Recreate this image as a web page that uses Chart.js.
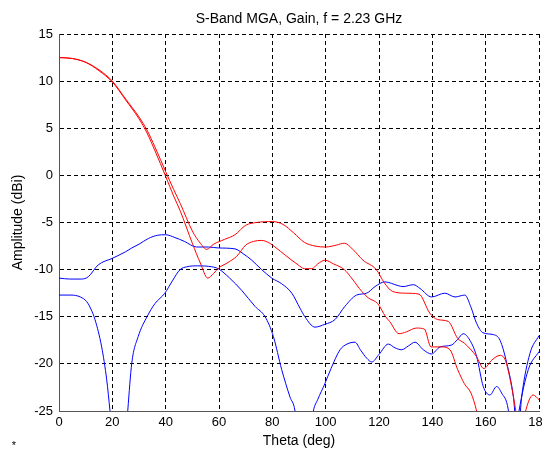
<!DOCTYPE html>
<html><head><meta charset="utf-8">
<script src="https://cdn.jsdelivr.net/npm/chart.js@4.4.1/dist/chart.umd.min.js"></script>
<style>
html,body{margin:0;padding:0;background:#fff;overflow:hidden;width:542px;height:450px}
#wrap{position:relative;width:580px;height:450px}
</style>
</head><body><div id="wrap"><canvas id="c" width="580" height="450"></canvas></div>
<script>
const chartTitle = 'S-Band MGA, Gain, f = 2.23 GHz';
const xTitle = 'Theta (deg)';
const yTitle = 'Amplitude (dBi)';
const xTicks = [0,20,40,60,80,100,120,140,160,180];
const yTicks = [-25,-20,-15,-10,-5,0,5,10,15];

const redAX = [0,5,10,15,20,25,30,33,36,40,43,45.5,50,53,55.4,58,62,66,70,74,80,84,88,92,96,100,104,107,110,114,119,122,125,130,135,139,142,146,149.5,152,156.5,159.3,162.3,165.4,167.5,169.7,171.5,173,174.8,177.8,180];
const redAY = [12.5,12.4,12.0,11.2,10.0,8.1,6.2,4.8,3.0,0.4,-1.5,-3.0,-5.9,-7.2,-7.85,-7.3,-6.8,-6.3,-5.3,-5.0,-4.9,-5.2,-6.1,-7.1,-7.5,-7.6,-7.4,-7.2,-7.8,-9.0,-10.0,-11.4,-12.3,-12.5,-12.6,-14.6,-15.3,-15.5,-17.3,-17.8,-19.2,-20.5,-19.6,-19.1,-19.7,-22.4,-25.3,-28,-25.2,-23.3,-23.8];

const redBX = [0,5,10,15,20,25,30,33,36,40,43,45.5,50,53,55.8,58,60,63,66.6,70,73,76,79,81,85,89.7,92,94.8,97,99.7,103,107,110,113.5,116,119.5,122.5,124,127.5,130.3,134,137,139.5,143.5,146.6,149.5,152,154.5,156.6,158,160,170,180];
const redBY = [12.5,12.4,12.0,11.1,9.9,8.0,6.0,4.5,2.6,-0.1,-2.2,-3.8,-7.2,-9.3,-10.9,-10.4,-9.8,-9.3,-8.6,-7.4,-7.0,-6.9,-7.2,-7.6,-8.5,-9.5,-9.9,-9.9,-9.4,-9.0,-9.4,-10.0,-11.0,-12.3,-13.0,-13.6,-15.0,-15.5,-16.8,-16.6,-16.2,-16.3,-18.2,-18.2,-18.5,-20.6,-22.1,-23.1,-25,-27,-30,-35,-35];

const blueAX = [0,4,8.5,11,14.7,20,25,27.3,30,33.5,37,40,43.5,47,51.6,56,59.7,66,69,72.3,76,79.8,83.5,87.3,90.4,92.2,96,99.7,103.5,107.2,111.6,115.4,118.5,122.2,127.2,129,132.9,135.4,139.7,144.7,148.5,152.2,154.5,156.6,159,163,165.4,167.9,170.4,172,173.5,176.6,180];
const blueAY = [-10.9,-11.0,-11.0,-10.75,-9.5,-8.8,-8.1,-7.7,-7.3,-6.7,-6.35,-6.3,-6.6,-7.0,-7.6,-7.6,-7.7,-7.8,-8.3,-9.0,-10.0,-10.9,-11.5,-12.5,-14.1,-15.0,-16.1,-15.8,-15.3,-13.9,-12.7,-12.5,-11.8,-11.3,-11.7,-11.8,-11.6,-12.0,-12.9,-12.5,-12.9,-12.7,-14.0,-15.7,-16.7,-16.9,-17.5,-19.9,-23.5,-28,-23.5,-18.9,-17.0];

const blueBX = [0,4.5,8,10.4,12,13.5,16,17.9,19.1,21,23,25,25.8,27.3,29.7,33,36,39.7,42.5,45.4,47.9,52,57.3,59.7,64,68.5,73.5,77.3,80.4,83.5,86.6,88.5,90,92,94,95.4,97,99.7,102,105.4,108,111,113,115.4,117.3,120,123.5,126,128.5,131,133.5,136.6,139.7,142.9,147.2,149.5,151.6,154.1,156.6,159.1,161.6,164.1,166,168.5,170,171.5,172.5,176,180];
const blueBY = [-12.7,-12.7,-12.9,-13.4,-14.2,-15.3,-18.2,-21.7,-24.9,-30,-35,-28,-24.9,-19.9,-17.1,-15.0,-13.6,-12.5,-11.2,-10.0,-9.7,-9.6,-9.7,-9.9,-10.9,-12.2,-13.9,-15.0,-17.1,-20.6,-23.5,-25,-29,-33,-28,-25,-23.8,-22.1,-20.5,-18.5,-17.9,-17.7,-18.5,-19.4,-19.8,-19.0,-17.9,-18.3,-18.5,-18.1,-17.7,-18.5,-18.95,-18.2,-18.0,-17.4,-16.8,-17.5,-19.2,-22.4,-23.3,-22.4,-23.1,-24.9,-29,-27,-25,-20.6,-18.7];

function pts(xs, ys){ return xs.map((x,i)=>({x:x, y:ys[i]})); }
function ds(xs, ys, color){
  return {data: pts(xs, ys), borderColor: color, borderWidth: 1, pointRadius: 0,
          fill: false, cubicInterpolationMode: 'monotone'};
}

Chart.defaults.font.family = 'Arial, "Liberation Sans", sans-serif';
Chart.defaults.color = '#000';

const starPlugin = {
  id: 'star',
  afterDraw(chart){
    const c = chart.ctx;
    c.save();
    c.fillStyle = '#000';
    c.font = '11px Arial, "Liberation Sans", sans-serif';
    c.textAlign = 'center';
    c.textBaseline = 'middle';
    c.fillText('*', 14, 446);
    c.restore();
  }
};

new Chart(document.getElementById('c'), {
  type: 'line',
  data: { datasets: [
    ds(redAX, redAY, '#ff0000'),
    ds(redBX, redBY, '#ff0000'),
    ds(blueAX, blueAY, '#0000ff'),
    ds(blueBX, blueBY, '#0000ff')
  ]},
  options: {
    responsive: false, animation: false, devicePixelRatio: 1,
    layout: { padding: { left: 0, right: 41, top: 0, bottom: 0 } },
    plugins: {
      legend: { display: false }, tooltip: { enabled: false },
      title: { display: true, text: chartTitle, fullSize: false, color: '#000',
               font: { size: 14, weight: 'normal' }, padding: { top: 10.6, bottom: 6.6 } }
    },
    scales: {
      x: {
        type: 'linear', min: xTicks[0], max: xTicks[xTicks.length-1],
        afterBuildTicks: (s) => { s.ticks = xTicks.map(v => ({value: v})); },
        ticks: { padding: 4, font: { size: 13 }, color: '#000', maxRotation: 0, autoSkip: false },
        grid: { color: '#000', drawTicks: false, lineWidth: 1 },
        border: { display: true, color: '#555', dash: [4, 3] },
        title: { display: true, text: xTitle, color: '#000', font: { size: 14 }, padding: { top: 0, bottom: 0 } },
        afterFit: (s) => { s.height = 39; }
      },
      y: {
        type: 'linear', min: yTicks[0], max: yTicks[yTicks.length-1],
        afterBuildTicks: (s) => { s.ticks = yTicks.map(v => ({value: v})); },
        ticks: { padding: 6, font: { size: 13 }, color: '#000' },
        grid: { color: '#000', drawTicks: false, lineWidth: 1 },
        border: { display: true, color: '#555', dash: [4, 3] },
        title: { display: true, text: yTitle, color: '#000', font: { size: 14 }, padding: { top: 10, bottom: 0 } },
        afterFit: (s) => { s.width = 59; }
      }
    }
  },
  plugins: [starPlugin]
});
</script></body></html>
